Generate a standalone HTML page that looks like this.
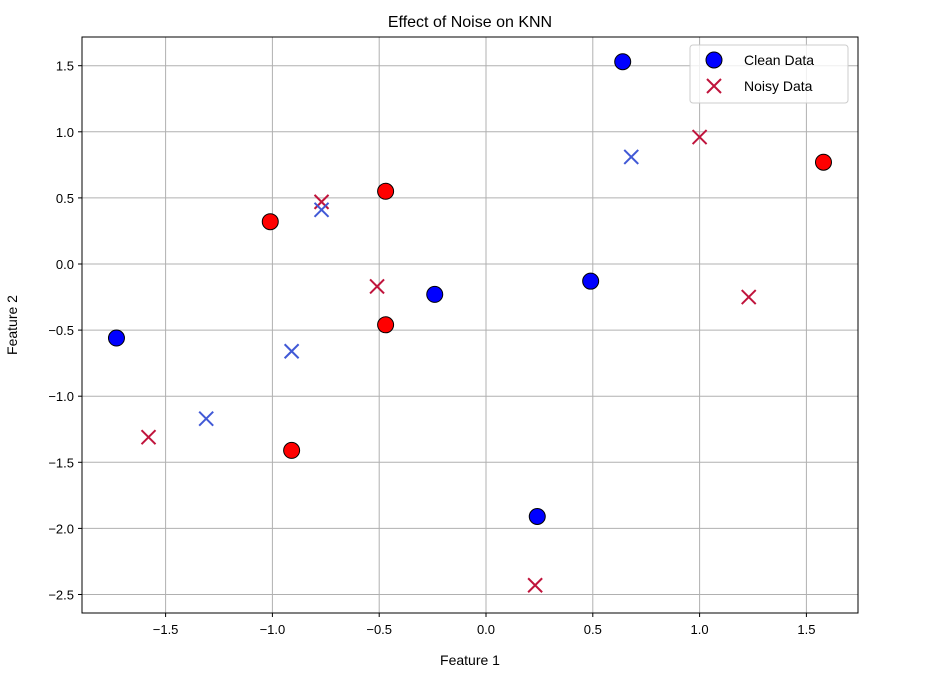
<!DOCTYPE html>
<html><head><meta charset="utf-8"><style>
body{margin:0;background:#fff;width:928px;height:680px;overflow:hidden}
svg{font-family:"Liberation Sans","DejaVu Sans",sans-serif}
</style></head><body>
<svg id="chart" width="928" height="680" xmlns="http://www.w3.org/2000/svg">
<rect width="928" height="680" fill="#fff"/>
<g id="grid"></g>
<g id="marks"></g>
<rect x="82" y="37" width="776" height="576" fill="none" stroke="#000" stroke-width="1"/>
<g id="ticks"></g>
<text x="470" y="27" font-size="16" text-anchor="middle">Effect of Noise on KNN</text>
<text x="470" y="665" font-size="14" text-anchor="middle">Feature 1</text>
<text transform="translate(17,325) rotate(-90)" font-size="14" text-anchor="middle">Feature 2</text>
<g>
<rect x="690" y="45" width="158" height="58" fill="#fff" fill-opacity="0.8" stroke="#ccc" rx="3"/>
<circle cx="714" cy="60" r="8" fill="#0000ff" stroke="#000"/>
<text x="744" y="65" font-size="14">Clean Data</text>
<path d="M707 79 L721 93 M721 79 L707 93" stroke="#c0143c" stroke-width="2"/>
<text x="744" y="91" font-size="14">Noisy Data</text>
</g>
</svg>
<script>
const xTicks=[-1.5,-1.0,-0.5,0.0,0.5,1.0,1.5];
const yTicks=[1.5,1.0,0.5,0.0,-0.5,-1.0,-1.5,-2.0,-2.5];
const cleanX=[-1.73,-0.24,0.49,0.64,0.24,-1.01,-0.47,-0.47,-0.91,1.58];
const cleanY=[-0.56,-0.23,-0.13,1.53,-1.91,0.32,0.55,-0.46,-1.41,0.77];
const cleanClass=[0,0,0,0,0,1,1,1,1,1];
const noisyX=[-0.77,-0.51,1.0,1.23,-1.58,0.23,-0.77,0.68,-0.91,-1.31];
const noisyY=[0.47,-0.17,0.96,-0.25,-1.31,-2.43,0.41,0.81,-0.66,-1.17];
const noisyClass=[1,1,1,1,1,1,0,0,0,0];
const sx=v=>486+213.6*v, sy=v=>264-132.2*v;
const NS="http://www.w3.org/2000/svg";
const grid=document.getElementById('grid'),ticks=document.getElementById('ticks'),marks=document.getElementById('marks');
function mk(tag,attrs,parent){const e=document.createElementNS(NS,tag);for(const k in attrs)e.setAttribute(k,attrs[k]);parent.appendChild(e);return e;}
const fmt=v=>(v<0?"\u2212":"")+Math.abs(v).toFixed(1);
xTicks.forEach(v=>{const x=sx(v);
 const g=mk('line',{x1:x,x2:x,y1:37,y2:613,stroke:'#b0b0b0','stroke-width':1},grid);
 
 mk('line',{x1:x,x2:x,y1:613,y2:617,stroke:'#000'},ticks);
 const t=mk('text',{x:x,y:634,'font-size':13,'text-anchor':'middle'},ticks);t.textContent=fmt(v);
 });
yTicks.forEach(v=>{const y=sy(v);
 const g=mk('line',{x1:82,x2:858,y1:y,y2:y,stroke:'#b0b0b0','stroke-width':1},grid);
 
 mk('line',{x1:78,x2:82,y1:y,y2:y,stroke:'#000'},ticks);
 const t=mk('text',{x:74,y:y+5,'font-size':13,'text-anchor':'end'},ticks);t.textContent=fmt(v);
 });
cleanX.forEach((v,i)=>{const c=mk('circle',{cx:sx(v),cy:sy(cleanY[i]),r:8,fill:cleanClass[i]?'#ff0000':'#0000ff',stroke:'#000','stroke-width':1},marks);
 });
noisyX.forEach((v,i)=>{const x=sx(v),y=sy(noisyY[i]),d=7;
 const p=mk('path',{d:`M${x-d} ${y-d}L${x+d} ${y+d}M${x+d} ${y-d}L${x-d} ${y+d}`,stroke:noisyClass[i]?'#c0143c':'#4159d6','stroke-width':2},marks);
 });
</script>
</body></html>
